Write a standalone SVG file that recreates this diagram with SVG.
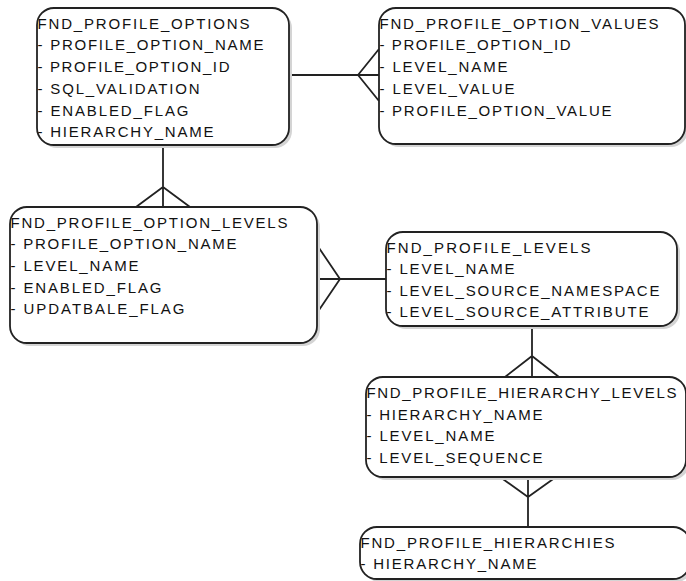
<svg xmlns="http://www.w3.org/2000/svg" width="686" height="581" viewBox="0 0 686 581">
<style>
.sh{fill:#d4d4d4;stroke:none}
.bx{fill:#fff;stroke:#222;stroke-width:1.8}
.t{font-family:"Liberation Sans",Arial,sans-serif;font-size:15px;fill:#111}
.c{stroke:#222;stroke-width:1.8;fill:none}
</style>
<rect width="686" height="581" fill="#fff"/>
<g id="connectors">
<path class="c" d="M289,75 H379 M358,75 L379,49 M358,75 L379,101"/>
<path class="c" d="M163,145 V207 M163,187 L136,207 M163,187 L190,207"/>
<path class="c" d="M317,279 H386 M340,279 L317,245 M340,279 L317,313"/>
<path class="c" d="M532,326 V377 M532,356 L505,377 M532,356 L559,377"/>
<path class="c" d="M528,477 V527 M528,497 L500,477 M528,497 L556,477"/>
</g>
<g id="fnd_profile_options">
<rect class="sh" x="40" y="11" width="252" height="137" rx="17"/>
<rect class="bx" x="37" y="8" width="252" height="137" rx="17"/>
<text class="t" x="37.5" y="28.5" textLength="212" lengthAdjust="spacing">FND_PROFILE_OPTIONS</text>
<text class="t" x="37.5" y="50" textLength="226" lengthAdjust="spacing">- PROFILE_OPTION_NAME</text>
<text class="t" x="37.5" y="72" textLength="192" lengthAdjust="spacing">- PROFILE_OPTION_ID</text>
<text class="t" x="37.5" y="94" textLength="162" lengthAdjust="spacing">- SQL_VALIDATION</text>
<text class="t" x="37.5" y="115.5" textLength="151" lengthAdjust="spacing">- ENABLED_FLAG</text>
<text class="t" x="37.5" y="137" textLength="176" lengthAdjust="spacing">- HIERARCHY_NAME</text>
</g>
<g id="fnd_profile_option_values">
<rect class="sh" x="382" y="11" width="306" height="136" rx="17"/>
<rect class="bx" x="379" y="8" width="306" height="136" rx="17"/>
<text class="t" x="379.5" y="28.5" textLength="279" lengthAdjust="spacing">FND_PROFILE_OPTION_VALUES</text>
<text class="t" x="379.5" y="50" textLength="191" lengthAdjust="spacing">- PROFILE_OPTION_ID</text>
<text class="t" x="379.5" y="72" textLength="128" lengthAdjust="spacing">- LEVEL_NAME</text>
<text class="t" x="379.5" y="94" textLength="135" lengthAdjust="spacing">- LEVEL_VALUE</text>
<text class="t" x="379.5" y="115.5" textLength="232" lengthAdjust="spacing">- PROFILE_OPTION_VALUE</text>
</g>
<g id="fnd_profile_option_levels">
<rect class="sh" x="13" y="210" width="307" height="136" rx="17"/>
<rect class="bx" x="10" y="207" width="307" height="136" rx="17"/>
<text class="t" x="10.5" y="227.5" textLength="277" lengthAdjust="spacing">FND_PROFILE_OPTION_LEVELS</text>
<text class="t" x="10.5" y="249" textLength="226" lengthAdjust="spacing">- PROFILE_OPTION_NAME</text>
<text class="t" x="10.5" y="271" textLength="128" lengthAdjust="spacing">- LEVEL_NAME</text>
<text class="t" x="10.5" y="292.5" textLength="151" lengthAdjust="spacing">- ENABLED_FLAG</text>
<text class="t" x="10.5" y="314" textLength="174" lengthAdjust="spacing">- UPDATBALE_FLAG</text>
</g>
<g id="fnd_profile_levels">
<rect class="sh" x="389" y="235" width="291" height="94" rx="17"/>
<rect class="bx" x="386" y="232" width="291" height="94" rx="17"/>
<text class="t" x="386.5" y="252.5" textLength="204" lengthAdjust="spacing">FND_PROFILE_LEVELS</text>
<text class="t" x="386.5" y="274" textLength="128" lengthAdjust="spacing">- LEVEL_NAME</text>
<text class="t" x="386.5" y="295.5" textLength="273" lengthAdjust="spacing">- LEVEL_SOURCE_NAMESPACE</text>
<text class="t" x="386.5" y="317" textLength="262" lengthAdjust="spacing">- LEVEL_SOURCE_ATTRIBUTE</text>
</g>
<g id="fnd_profile_hierarchy_levels">
<rect class="sh" x="369" y="380" width="320" height="100" rx="17"/>
<rect class="bx" x="366" y="377" width="320" height="100" rx="17"/>
<text class="t" x="366.5" y="398" textLength="310" lengthAdjust="spacing">FND_PROFILE_HIERARCHY_LEVELS</text>
<text class="t" x="366.5" y="419.5" textLength="176" lengthAdjust="spacing">- HIERARCHY_NAME</text>
<text class="t" x="366.5" y="441" textLength="128" lengthAdjust="spacing">- LEVEL_NAME</text>
<text class="t" x="366.5" y="463" textLength="176" lengthAdjust="spacing">- LEVEL_SEQUENCE</text>
</g>
<g id="fnd_profile_hierarchies">
<rect class="sh" x="363" y="530" width="330" height="52" rx="17"/>
<rect class="bx" x="360" y="527" width="330" height="52" rx="17"/>
<text class="t" x="360.5" y="547.5" textLength="254" lengthAdjust="spacing">FND_PROFILE_HIERARCHIES</text>
<text class="t" x="360.5" y="569" textLength="176" lengthAdjust="spacing">- HIERARCHY_NAME</text>
</g>
</svg>
